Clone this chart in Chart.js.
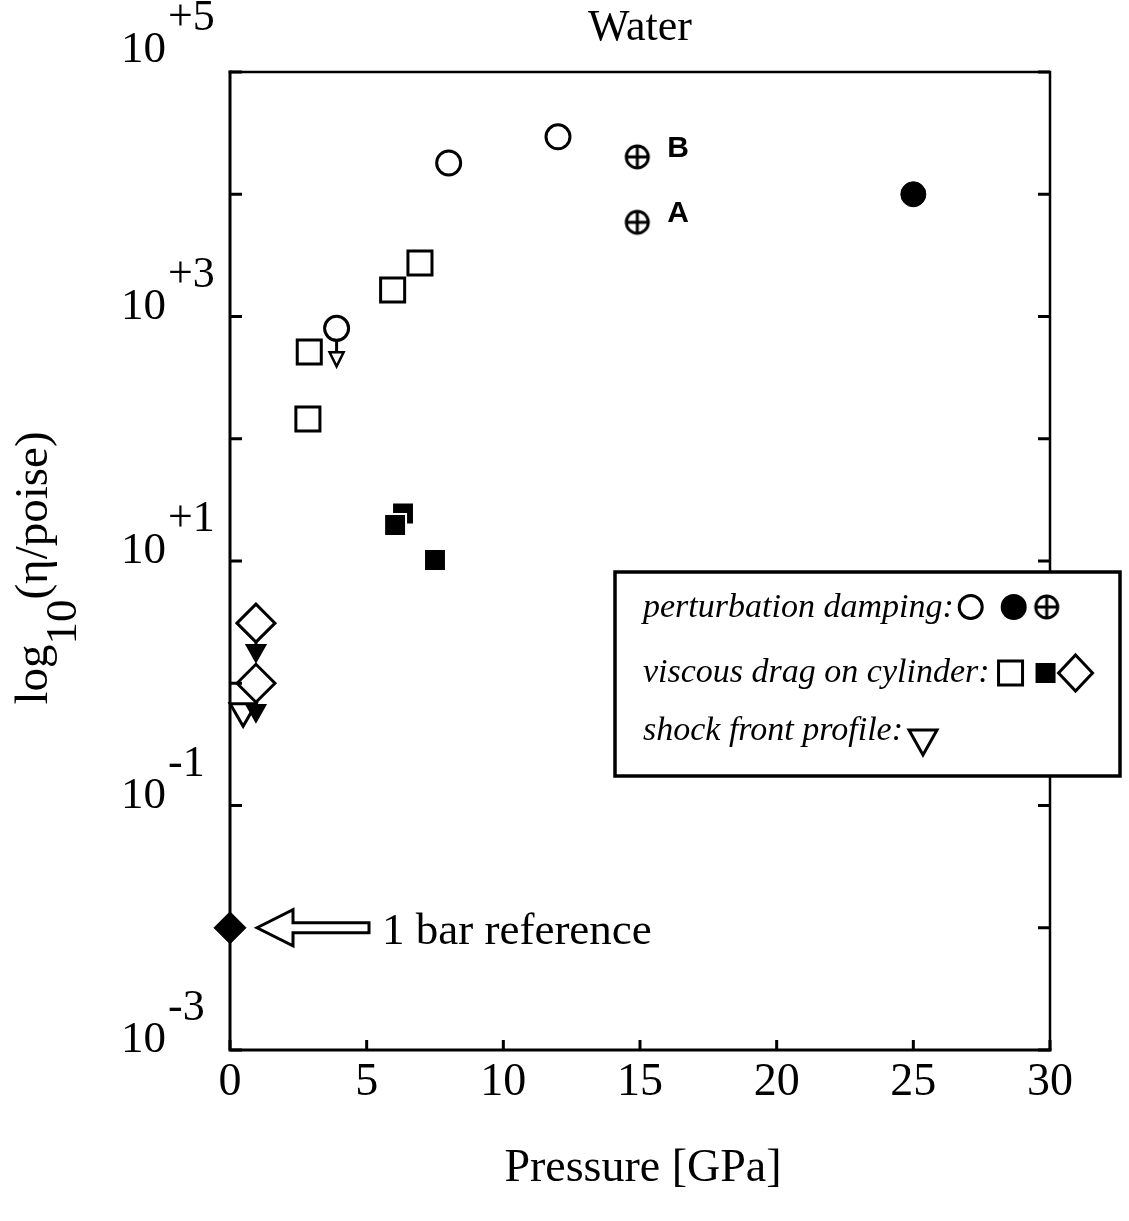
<!DOCTYPE html>
<html>
<head>
<meta charset="utf-8">
<script src="https://cdn.jsdelivr.net/npm/chart.js@4.4.0/dist/chart.umd.min.js"></script>
<style>
  html, body { margin: 0; padding: 0; background: #fff; }
  canvas { display: block; }
</style>
</head>
<body>
<canvas id="waterChart" width="1129" height="1221"></canvas>
<script>
// pressure [GPa] vs viscosity [poise]
const openCircleP = [3.9, 8, 12];
const openCircleEta = [800, 18000, 29500];
const openCircleUpper = [true, false, false];
const filledCircleP = [25];
const filledCircleEta = [10000];
const plusCircleP = [14.9, 14.9];
const plusCircleEta = [20200, 5900];
const plusCircleTags = ["B", "A"];
const openSquareP = [2.9, 2.85, 5.95, 6.95];
const openSquareEta = [513, 145, 1650, 2740];
const filledSquareP = [6.33, 6.04, 7.5];
const filledSquareEta = [24.5, 19.7, 10.2];
const diamondP = [0.95, 0.95];
const diamondEta = [3.1, 1.0];
const diamondUpper = [true, true];
const shockP = [0.48];
const shockEta = [0.59];
const refP = [0];
const refEta = [0.01];

const xTicks = [0, 5, 10, 15, 20, 25, 30];
const yDecades = [1e-3, 1e-2, 1e-1, 1, 10, 100, 1e3, 1e4, 1e5];
const yLabelExps = [5, 3, 1, -1, -3];

const SERIF = "'Liberation Serif', 'Times New Roman', serif";
const SANS = "'Liberation Sans', Arial, sans-serif";

const pts = (xs, ys) => xs.map((x, i) => ({ x: x, y: ys[i] }));

// circle with a plus inside, used as a point image
function plusCircle(r) {
  const c = document.createElement("canvas");
  const s = 2 * r + 6;
  c.width = s; c.height = s;
  const g = c.getContext("2d");
  const m = s / 2;
  g.strokeStyle = "#000";
  g.lineWidth = 3;
  g.beginPath(); g.arc(m, m, r, 0, Math.PI * 2); g.stroke();
  g.beginPath();
  g.moveTo(m - r, m); g.lineTo(m + r, m);
  g.moveTo(m, m - r); g.lineTo(m, m + r);
  g.stroke();
  return c;
}
const plusImg = plusCircle(11);

function drawArrowDown(ctx, x, y0, shaft, head, half, filled) {
  ctx.save();
  ctx.strokeStyle = "#000";
  ctx.lineWidth = 3;
  ctx.beginPath(); ctx.moveTo(x, y0); ctx.lineTo(x, y0 + shaft); ctx.stroke();
  ctx.beginPath();
  ctx.moveTo(x - half, y0 + shaft);
  ctx.lineTo(x + half, y0 + shaft);
  ctx.lineTo(x, y0 + shaft + head);
  ctx.closePath();
  ctx.fillStyle = filled ? "#000" : "#fff";
  ctx.fill();
  ctx.lineWidth = 2.5;
  ctx.stroke();
  ctx.restore();
}

const framePlugin = {
  id: "frame",
  beforeDatasetsDraw(chart) {
    const { ctx, chartArea: a, scales } = chart;
    ctx.save();
    ctx.strokeStyle = "#000";
    ctx.lineCap = "square";
    ctx.lineWidth = 3;
    ctx.beginPath();
    ctx.moveTo(a.left, a.top); ctx.lineTo(a.left, a.bottom); ctx.lineTo(a.right, a.bottom);
    ctx.stroke();
    ctx.lineWidth = 2.5;
    ctx.beginPath();
    ctx.moveTo(a.left, a.top); ctx.lineTo(a.right, a.top); ctx.lineTo(a.right, a.bottom);
    ctx.stroke();
    ctx.lineWidth = 3;
    ctx.lineCap = "butt";
    yDecades.forEach(v => {
      const y = scales.y.getPixelForValue(v);
      ctx.beginPath();
      ctx.moveTo(a.left, y); ctx.lineTo(a.left + 12, y);
      ctx.moveTo(a.right, y); ctx.lineTo(a.right - 12, y);
      ctx.stroke();
    });
    xTicks.forEach(v => {
      const x = scales.x.getPixelForValue(v);
      ctx.beginPath(); ctx.moveTo(x, a.bottom); ctx.lineTo(x, a.bottom - 10); ctx.stroke();
    });
    ctx.restore();
  },
  afterDatasetsDraw(chart) {
    const { ctx } = chart;
    // upper-limit arrows
    chart.data.datasets.forEach((ds, i) => {
      if (!ds.upper) return;
      const meta = chart.getDatasetMeta(i);
      ds.upper.forEach((u, j) => {
        if (!u) return;
        const el = meta.data[j];
        const s = ds.arrow;
        drawArrowDown(ctx, el.x, el.y + ds.pointRadius, s.shaft, s.head, s.half, s.filled);
      });
    });
    // A / B tags
    const pm = chart.getDatasetMeta(2);
    ctx.save();
    ctx.fillStyle = "#000";
    ctx.font = "bold 30px " + SANS;
    plusCircleTags.forEach((t, j) => {
      const el = pm.data[j];
      ctx.fillText(t, el.x + 30, el.y);
    });
    ctx.restore();

    // 1 bar reference arrow
    const re = chart.getDatasetMeta(7).data[0];
    const tip = re.x + 27, y = re.y;
    ctx.save();
    ctx.beginPath();
    ctx.moveTo(tip, y);
    ctx.lineTo(tip + 36, y - 18);
    ctx.lineTo(tip + 36, y - 5);
    ctx.lineTo(tip + 112, y - 5);
    ctx.lineTo(tip + 112, y + 5);
    ctx.lineTo(tip + 36, y + 5);
    ctx.lineTo(tip + 36, y + 18);
    ctx.closePath();
    ctx.fillStyle = "#fff"; ctx.fill();
    ctx.strokeStyle = "#000"; ctx.lineWidth = 3; ctx.stroke();
    ctx.fillStyle = "#000";
    ctx.font = "45px " + SERIF;
    ctx.fillText("1 bar reference", 382, y + 16);
    ctx.restore();

    drawLegend(ctx);
  },
  afterDraw(chart) {
    const { ctx, scales } = chart;
    ctx.save();
    ctx.fillStyle = "#000";
    // title
    ctx.font = "44px " + SERIF;
    ctx.textAlign = "center";
    ctx.fillText("Water", 640, 40);
    // x tick labels
    ctx.font = "46px " + SERIF;
    xTicks.forEach(v => ctx.fillText(String(v), scales.x.getPixelForValue(v), 1095));
    ctx.fillText("Pressure [GPa]", 643, 1181);
    // y tick labels 10^n (top one sits a little higher, as in the figure)
    yLabelExps.forEach(e => {
      const y = scales.y.getPixelForValue(Math.pow(10, e)) + (e === 5 ? -12 : 0);
      ctx.textAlign = "right";
      ctx.font = "45px " + SERIF;
      ctx.fillText("10", 166, y + 2);
      ctx.textAlign = "left";
      ctx.font = "44px " + SERIF;
      ctx.fillText((e > 0 ? "+" : "-") + Math.abs(e), 168, y - 30);
    });
    // y title
    ctx.translate(47, 568);
    ctx.rotate(-Math.PI / 2);
    ctx.textAlign = "left";
    const f1 = "47px " + SERIF, f2 = "45px " + SERIF;
    ctx.font = f1; const w1 = ctx.measureText("log").width;
    ctx.font = f2; const w2 = ctx.measureText("10").width;
    ctx.font = f1; const w3 = ctx.measureText("(\u03B7/poise)").width;
    const x0 = -(w1 + w2 + w3) / 2;
    ctx.font = f1; ctx.fillText("log", x0, 0);
    ctx.font = f2; ctx.fillText("10", x0 + w1, 29);
    ctx.font = f1; ctx.fillText("(\u03B7/poise)", x0 + w1 + w2, 0);
    ctx.restore();
  }
};

function drawLegend(ctx) {
  ctx.save();
  ctx.fillStyle = "#fff";
  ctx.fillRect(615, 572, 505, 204);
  ctx.strokeStyle = "#000";
  ctx.lineWidth = 3.5;
  ctx.strokeRect(615, 572, 505, 204);
  ctx.fillStyle = "#000";
  ctx.font = "italic 34px " + SERIF;
  const rows = [
    ["perturbation damping:", 617],
    ["viscous drag on cylinder:", 682],
    ["shock front profile:", 740]
  ];
  const ends = rows.map(([t, y]) => { ctx.fillText(t, 643, y); return 643 + ctx.measureText(t).width; });
  ctx.lineWidth = 3;
  // row 1
  let cx = ends[0] + 17, cy = 607;
  ctx.beginPath(); ctx.arc(cx, cy, 11.5, 0, Math.PI * 2); ctx.stroke();
  cx += 43;
  ctx.beginPath(); ctx.arc(cx, cy, 13, 0, Math.PI * 2); ctx.fill();
  cx += 33;
  ctx.drawImage(plusImg, cx - plusImg.width / 2, cy - plusImg.height / 2);
  // row 2
  cx = ends[1] + 21; cy = 673;
  ctx.strokeRect(cx - 12, cy - 12, 24, 24);
  cx += 35;
  ctx.fillRect(cx - 10, cy - 10, 20, 20);
  cx += 30;
  ctx.beginPath();
  ctx.moveTo(cx, cy - 18); ctx.lineTo(cx + 17, cy); ctx.lineTo(cx, cy + 18); ctx.lineTo(cx - 17, cy);
  ctx.closePath(); ctx.stroke();
  // row 3
  cx = ends[2] + 20; cy = 740;
  ctx.beginPath();
  ctx.moveTo(cx - 14, cy - 10); ctx.lineTo(cx + 14, cy - 10); ctx.lineTo(cx, cy + 15);
  ctx.closePath(); ctx.stroke();
  ctx.restore();
}

const open = "rgba(0,0,0,0)";

new Chart(document.getElementById("waterChart"), {
  type: "scatter",
  data: {
    datasets: [
      { label: "perturbation damping (open)", data: pts(openCircleP, openCircleEta), pointStyle: "circle",
        pointRadius: 12, pointBorderWidth: 3, borderColor: "#000", backgroundColor: open,
        upper: openCircleUpper, arrow: { shaft: 12, head: 14, half: 7, filled: false } },
      { label: "perturbation damping (filled)", data: pts(filledCircleP, filledCircleEta), pointStyle: "circle",
        pointRadius: 12.5, pointBorderWidth: 1, borderColor: "#000", backgroundColor: "#000" },
      { label: "perturbation damping (plus)", data: pts(plusCircleP, plusCircleEta), pointStyle: plusImg,
        pointRadius: 12 },
      { label: "viscous drag (open square)", data: pts(openSquareP, openSquareEta), pointStyle: "rect",
        pointRadius: 17, pointBorderWidth: 3, borderColor: "#000", backgroundColor: open },
      { label: "viscous drag (filled square)", data: pts(filledSquareP, filledSquareEta), pointStyle: "rect",
        pointRadius: 15.5, pointBorderWidth: 2, borderColor: "#fff", backgroundColor: "#000" },
      { label: "viscous drag (diamond)", data: pts(diamondP, diamondEta), pointStyle: "rectRot",
        pointRadius: 19, pointBorderWidth: 3, borderColor: "#000", backgroundColor: open,
        upper: diamondUpper, arrow: { shaft: 3, head: 16, half: 9, filled: true } },
      { label: "shock front profile", data: pts(shockP, shockEta), pointStyle: "triangle", pointRotation: 180,
        pointRadius: 15, pointBorderWidth: 3, borderColor: "#000", backgroundColor: open },
      { label: "1 bar reference", data: pts(refP, refEta), pointStyle: "rectRot",
        pointRadius: 16, pointBorderWidth: 1, borderColor: "#000", backgroundColor: "#000" }
    ].map(d => Object.assign({ clip: false, pointHoverRadius: d.pointRadius }, d))
  },
  options: {
    responsive: false,
    animation: false,
    devicePixelRatio: 1,
    layout: { padding: { top: 72, right: 79, left: 0, bottom: 0 } },
    plugins: {
      legend: { display: false },
      tooltip: { enabled: false },
      title: { display: false }
    },
    scales: {
      x: {
        type: "linear", min: 0, max: 30,
        afterBuildTicks: s => { s.ticks = xTicks.map(v => ({ value: v })); },
        ticks: { display: false },
        grid: { display: false },
        border: { display: false },
        afterFit: s => { s.height = 171; }
      },
      y: {
        type: "logarithmic", min: 1e-3, max: 1e5,
        afterBuildTicks: s => { s.ticks = yDecades.map(v => ({ value: v })); },
        ticks: { display: false },
        grid: { display: false },
        border: { display: false },
        afterFit: s => { s.width = 230; }
      }
    }
  },
  plugins: [framePlugin]
});
</script>
</body>
</html>
